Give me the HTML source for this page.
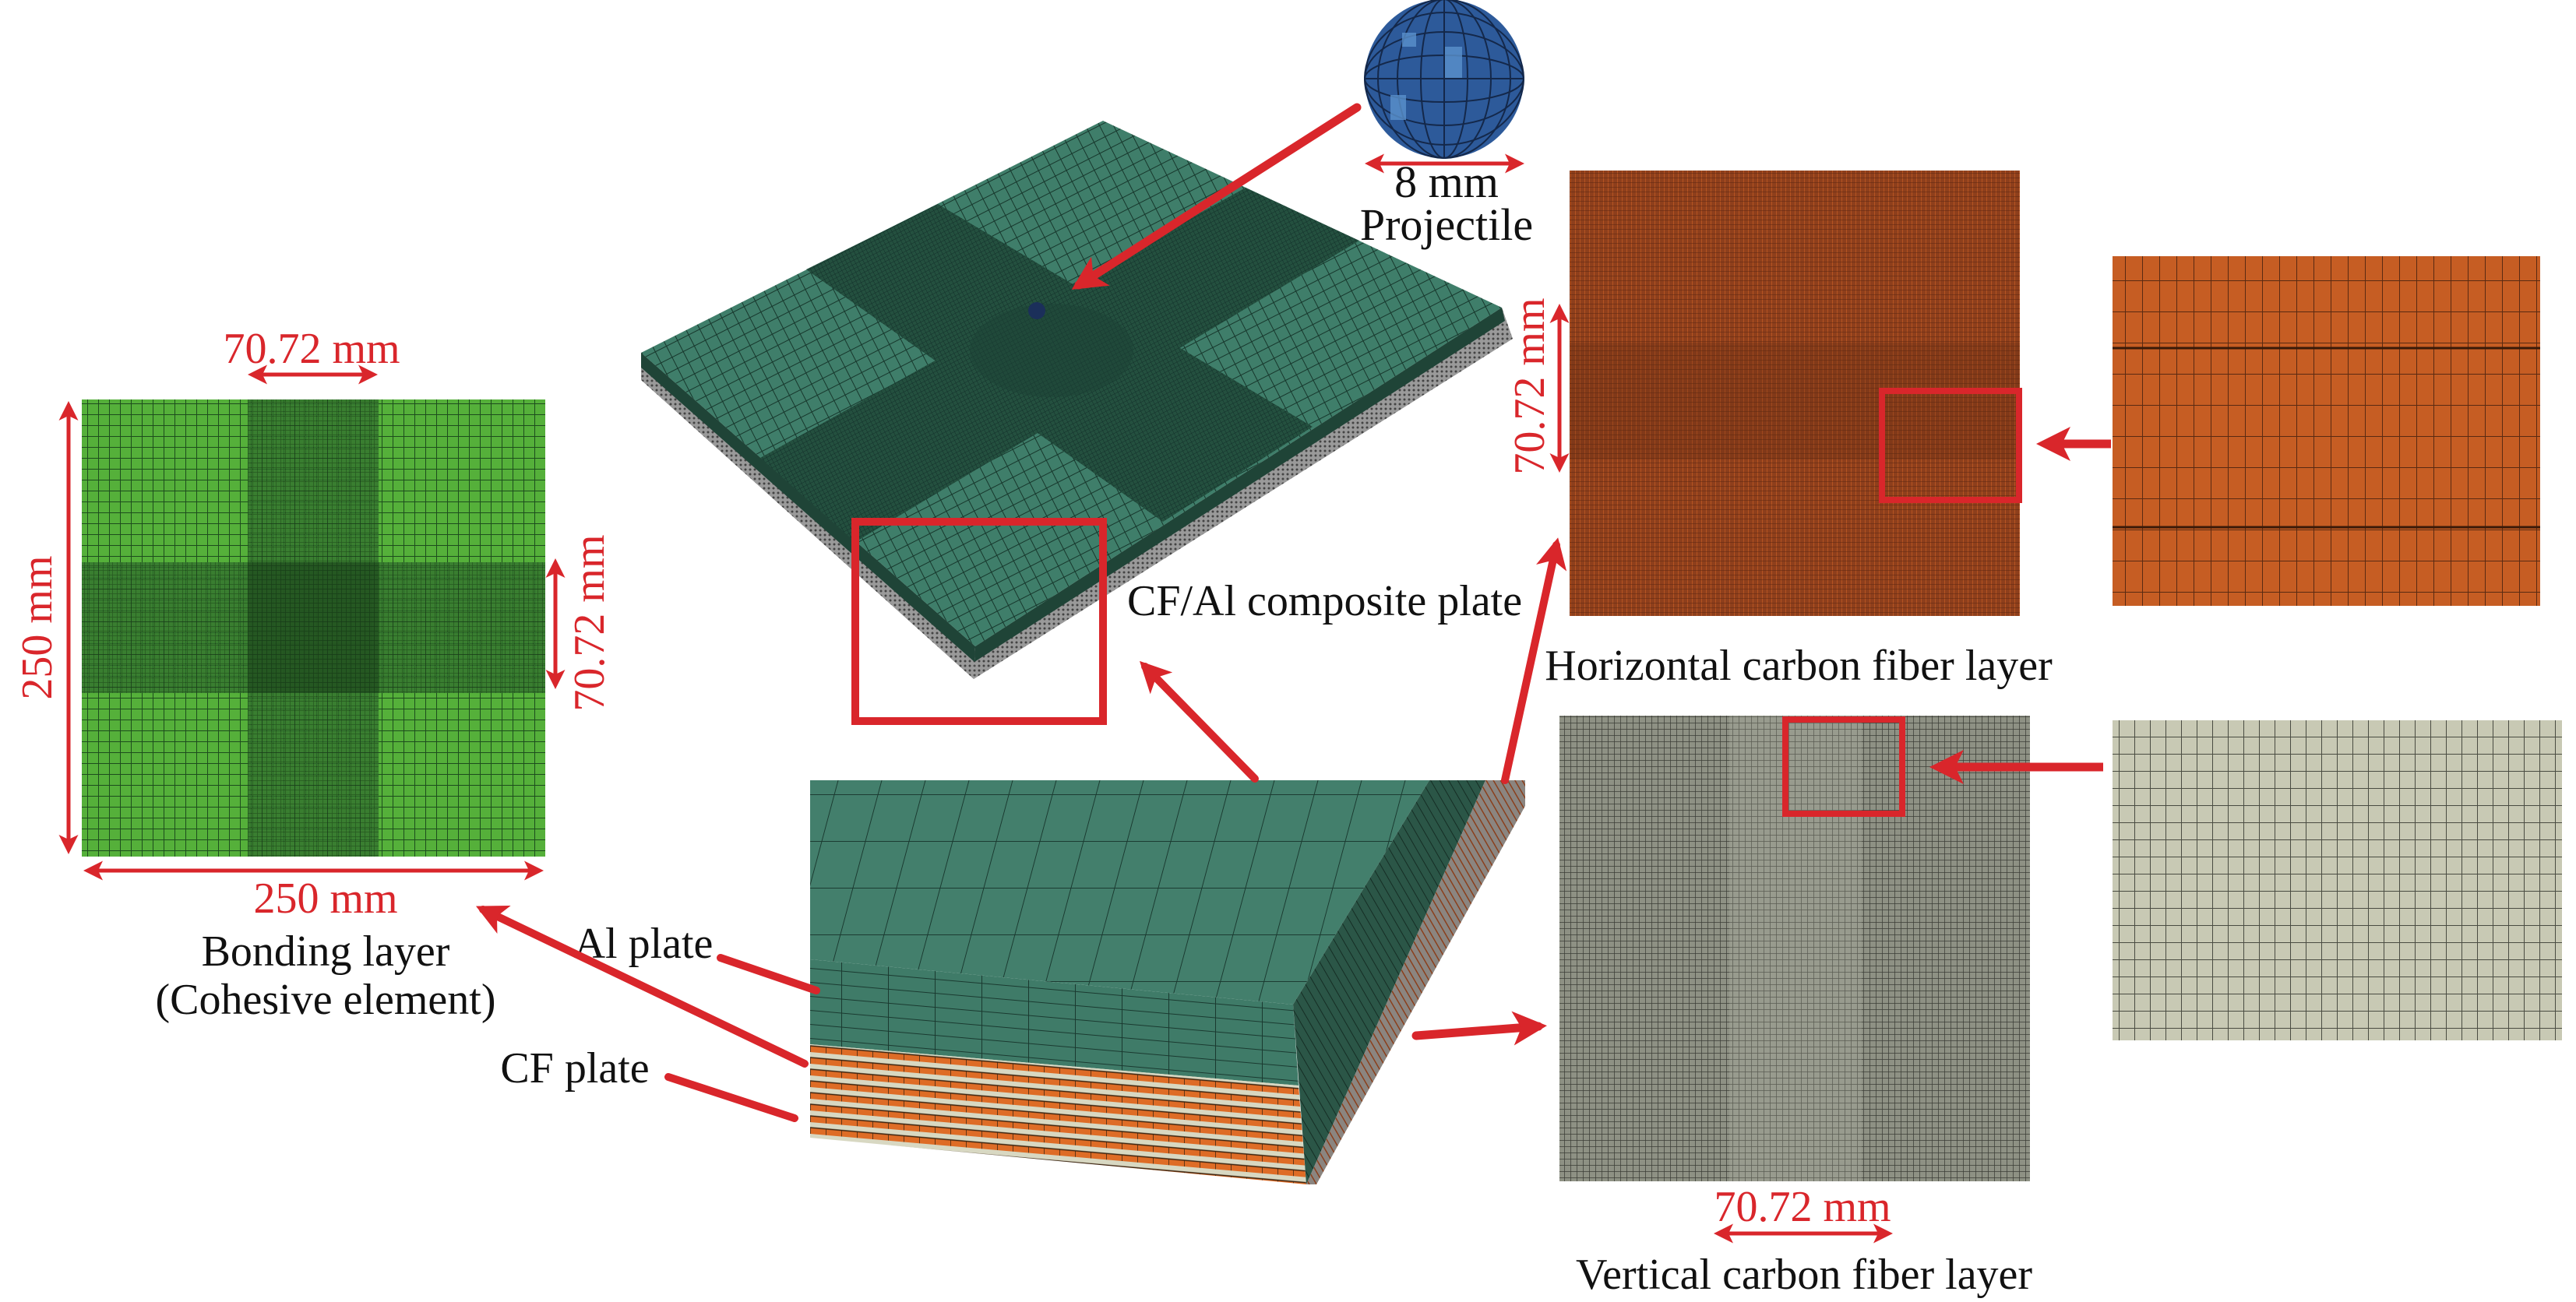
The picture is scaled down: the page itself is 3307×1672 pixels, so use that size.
<!DOCTYPE html>
<html><head><meta charset="utf-8"><style>
html,body{margin:0;padding:0;background:#fff;}
svg{display:block;}
text{font-family:"Liberation Serif",serif;}
</style></head><body>
<svg width="3307" height="1672" viewBox="0 0 3307 1672" xmlns="http://www.w3.org/2000/svg">
<defs>
<marker id="ah" markerWidth="4" markerHeight="4" refX="3" refY="2" orient="auto" markerUnits="strokeWidth">
<path d="M0,0 L4,2 L0,4 L1,2 z" fill="#d9262b"/></marker>
<marker id="ahs" markerWidth="5" markerHeight="5" refX="4" refY="2.5" orient="auto-start-reverse" markerUnits="strokeWidth">
<path d="M0,0 L5,2.5 L0,5 L1.2,2.5 z" fill="#d9262b"/></marker>
<pattern id="gGreen" width="14" height="14" patternUnits="userSpaceOnUse">
<rect width="14" height="14" fill="#55b03a"/><path d="M0,0H14M0,0V14" stroke="#1d4d1d" stroke-width="2"/></pattern>
<pattern id="gGreenD" width="6" height="6" patternUnits="userSpaceOnUse">
<rect width="6" height="6" fill="#2f6d2c"/><path d="M0,0H6M0,0V6" stroke="#173a17" stroke-width="1.5"/></pattern>
<pattern id="plate" width="16" height="16" patternUnits="userSpaceOnUse" patternTransform="rotate(-27)">
<rect width="16" height="16" fill="#3f7e6a"/><path d="M0,0H16M0,0V16" stroke="#17372c" stroke-width="2"/></pattern>
<pattern id="plateD" width="5" height="5" patternUnits="userSpaceOnUse" patternTransform="rotate(-27)">
<rect width="5" height="5" fill="#24503f"/><path d="M0,0H5M0,0V5" stroke="#13302a" stroke-width="1"/></pattern>
<pattern id="blockTop" width="56" height="60" patternUnits="userSpaceOnUse" patternTransform="skewX(-15)">
<rect width="56" height="60" fill="#437f6c"/><path d="M0,0H56M0,0V60" stroke="#1a3a30" stroke-width="2"/></pattern>
<pattern id="alFront" width="60" height="18" patternUnits="userSpaceOnUse" patternTransform="skewY(5)">
<rect width="60" height="18" fill="#3f7b68"/><path d="M0,0H60M0,0V18" stroke="#1a3a30" stroke-width="2"/></pattern>
<pattern id="cf" width="20" height="15" patternUnits="userSpaceOnUse" patternTransform="skewY(5)">
<rect width="20" height="15" fill="#d8d8c2"/><rect y="7" width="20" height="8" fill="#de6c26"/><path d="M0,7H20M0,7V15" stroke="#3b2410" stroke-width="1.5"/></pattern>
<pattern id="sideD" width="10" height="10" patternUnits="userSpaceOnUse" patternTransform="rotate(60)">
<rect width="10" height="10" fill="#2b5647"/><path d="M0,0H10" stroke="#152d24" stroke-width="2"/></pattern>
<pattern id="sideO" width="8" height="8" patternUnits="userSpaceOnUse" patternTransform="rotate(60)">
<rect width="8" height="8" fill="#8b8580"/><path d="M0,0H8" stroke="#8a3f1c" stroke-width="3"/></pattern>
<pattern id="grey" width="8" height="8" patternUnits="userSpaceOnUse">
<rect width="8" height="8" fill="#8e9184"/><path d="M0,0H8M0,0V8" stroke="#3c3e36" stroke-width="1.5"/></pattern>
<pattern id="hOrange" width="6" height="6" patternUnits="userSpaceOnUse">
<rect width="6" height="6" fill="#8e3f1c"/><path d="M0,0V6" stroke="#c25a23" stroke-width="1.5"/><path d="M0,0H6" stroke="#5a2610" stroke-width="1"/></pattern>
<pattern id="oZoom" width="22" height="40" patternUnits="userSpaceOnUse">
<rect width="22" height="40" fill="#c65d23"/><path d="M0,0H22M0,0V40" stroke="#5a2a12" stroke-width="2"/></pattern>
<pattern id="gZoom" width="20" height="22" patternUnits="userSpaceOnUse">
<rect width="20" height="22" fill="#c8c9b4"/><path d="M0,0H20M0,0V22" stroke="#4a4c42" stroke-width="2"/></pattern>
<pattern id="plateGrey" width="6" height="6" patternUnits="userSpaceOnUse"><rect width="6" height="6" fill="#9a9a9a"/><circle cx="3" cy="3" r="1.5" fill="#444"/></pattern>
</defs>

<!-- Bonding layer -->
<rect x="105" y="513" width="595" height="587" fill="url(#gGreen)"/>
<rect x="318" y="513" width="168" height="587" fill="url(#gGreenD)" opacity="0.75"/>
<rect x="105" y="722" width="595" height="168" fill="url(#gGreenD)" opacity="0.75"/>
<rect x="318" y="722" width="168" height="168" fill="#173a17" opacity="0.45"/>
<line x1="323" y1="481" x2="480" y2="481" stroke="#d9262b" stroke-width="5" marker-start="url(#ahs)" marker-end="url(#ahs)"/>
<text x="400" y="466" font-size="56" fill="#d9262b" text-anchor="middle">70.72 mm</text>
<line x1="88" y1="520" x2="88" y2="1092" stroke="#d9262b" stroke-width="5" marker-start="url(#ahs)" marker-end="url(#ahs)"/>
<text transform="translate(66,806) rotate(-90)" font-size="56" fill="#d9262b" text-anchor="middle">250 mm</text>
<line x1="713" y1="722" x2="713" y2="880" stroke="#d9262b" stroke-width="5" marker-start="url(#ahs)" marker-end="url(#ahs)"/>
<text transform="translate(775,800) rotate(-90)" font-size="56" fill="#d9262b" text-anchor="middle">70.72 mm</text>
<line x1="112" y1="1118" x2="693" y2="1118" stroke="#d9262b" stroke-width="5" marker-start="url(#ahs)" marker-end="url(#ahs)"/>
<text x="418" y="1172" font-size="56" fill="#d9262b" text-anchor="middle">250 mm</text>
<text x="418" y="1240" font-size="56" fill="#111" text-anchor="middle">Bonding layer</text>
<text x="418" y="1302" font-size="56" fill="#111" text-anchor="middle">(Cohesive element)</text>

<!-- Composite plate -->
<polygon points="823,453 1252,830 1250,872 823,488" fill="url(#plateGrey)"/>
<polygon points="823,453 1252,830 1251,850 823,472" fill="#1f4437"/>
<polygon points="1252,830 1928,395 1942,435 1250,872" fill="url(#plateGrey)"/>
<polygon points="1252,830 1928,395 1932,412 1251,850" fill="#1f4437"/>
<polygon points="823,453 1416,155 1928,395 1252,830" fill="url(#plate)"/>
<polygon points="1035,346 1204,262 1685,548 1493,670" fill="url(#plateD)"/>
<polygon points="976,588 1098,696 1745,309 1599,241" fill="url(#plateD)"/>
<ellipse cx="1350" cy="450" rx="105" ry="60" fill="#1c4235" opacity="0.5"/>
<circle cx="1331" cy="399" r="11" fill="#1b2f5a"/>
<rect x="1098" y="670" width="318" height="256" fill="none" stroke="#d9262b" stroke-width="10"/>
<text x="1447" y="790" font-size="56" fill="#111">CF/Al composite plate</text>

<!-- Projectile -->
<circle cx="1854" cy="101" r="102" fill="#2d5a9a"/>
<g stroke="#14284a" stroke-width="2" fill="none">
<ellipse cx="1854" cy="101" rx="30" ry="102"/><ellipse cx="1854" cy="101" rx="60" ry="102"/><ellipse cx="1854" cy="101" rx="85" ry="102"/>
<ellipse cx="1854" cy="101" rx="102" ry="30"/><ellipse cx="1854" cy="101" rx="102" ry="60"/><ellipse cx="1854" cy="101" rx="102" ry="85"/>
<line x1="1752" y1="101" x2="1956" y2="101"/><line x1="1854" y1="0" x2="1854" y2="203"/>
</g>
<rect x="1855" y="60" width="22" height="40" fill="#5a91cc" opacity="0.8"/>
<rect x="1800" y="42" width="18" height="18" fill="#5a91cc" opacity="0.8"/>
<rect x="1785" y="122" width="20" height="32" fill="#5a91cc" opacity="0.8"/>
<line x1="1757" y1="210" x2="1952" y2="210" stroke="#d9262b" stroke-width="5" marker-start="url(#ahs)" marker-end="url(#ahs)"/>
<text x="1857" y="253" font-size="58" fill="#111" text-anchor="middle">8 mm</text>
<text x="1857" y="308" font-size="58" fill="#111" text-anchor="middle">Projectile</text>
<line x1="1742" y1="138" x2="1385" y2="366" stroke="#d9262b" stroke-width="11" stroke-linecap="round" marker-end="url(#ah)"/>

<!-- Bottom block -->
<polygon points="1040,1002 1835,1002 1660,1290 1040,1232" fill="url(#blockTop)"/>
<polygon points="1040,1232 1660,1290 1667,1394 1040,1341" fill="url(#alFront)"/>
<polygon points="1040,1341 1667,1394 1677,1521 1040,1461" fill="url(#cf)"/>
<polygon points="1835,1002 1907,1002 1677,1521 1660,1290" fill="url(#sideD)"/>
<polygon points="1907,1002 1958,1002 1958,1035 1690,1521 1677,1521" fill="url(#sideO)"/>
<text x="826" y="1230" font-size="56" fill="#111" text-anchor="middle">Al plate</text>
<text x="738" y="1390" font-size="56" fill="#111" text-anchor="middle">CF plate</text>
<line x1="925" y1="1230" x2="1048" y2="1272" stroke="#d9262b" stroke-width="10" stroke-linecap="round"/>
<line x1="858" y1="1383" x2="1020" y2="1436" stroke="#d9262b" stroke-width="10" stroke-linecap="round"/>
<line x1="1033" y1="1366" x2="620" y2="1168" stroke="#d9262b" stroke-width="10" stroke-linecap="round" marker-end="url(#ah)"/>
<line x1="1611" y1="1000" x2="1470" y2="856" stroke="#d9262b" stroke-width="10" stroke-linecap="round" marker-end="url(#ah)"/>
<line x1="1932" y1="1002" x2="1998" y2="700" stroke="#d9262b" stroke-width="10" stroke-linecap="round" marker-end="url(#ah)"/>
<line x1="1818" y1="1330" x2="1975" y2="1318" stroke="#d9262b" stroke-width="11" stroke-linecap="round" marker-end="url(#ah)"/>

<!-- Horizontal CF layer -->
<rect x="2015" y="219" width="578" height="572" fill="url(#hOrange)"/>
<rect x="2015" y="440" width="578" height="150" fill="#5a2610" opacity="0.25"/>
<rect x="2416" y="502" width="176" height="140" fill="none" stroke="#d9262b" stroke-width="8"/>
<line x1="2002" y1="395" x2="2002" y2="602" stroke="#d9262b" stroke-width="5" marker-start="url(#ahs)" marker-end="url(#ahs)"/>
<text transform="translate(1982,496) rotate(-90)" font-size="56" fill="#d9262b" text-anchor="middle">70.72 mm</text>
<text x="2309" y="873" font-size="56" fill="#111" text-anchor="middle">Horizontal carbon fiber layer</text>
<rect x="2712" y="329" width="549" height="449" fill="url(#oZoom)"/>
<line x1="2712" y1="447" x2="3261" y2="447" stroke="#3a1a08" stroke-width="3"/>
<line x1="2712" y1="677" x2="3261" y2="677" stroke="#3a1a08" stroke-width="3"/>
<line x1="2710" y1="570" x2="2625" y2="570" stroke="#d9262b" stroke-width="11" marker-end="url(#ah)"/>

<!-- Vertical CF layer -->
<rect x="2002" y="919" width="604" height="598" fill="url(#grey)"/>
<rect x="2220" y="919" width="170" height="598" fill="#b8bcab" opacity="0.25"/>
<rect x="2292" y="924" width="150" height="121" fill="none" stroke="#d9262b" stroke-width="8"/>
<line x1="2700" y1="985" x2="2488" y2="985" stroke="#d9262b" stroke-width="11" marker-end="url(#ah)"/>
<rect x="2712" y="925" width="577" height="411" fill="url(#gZoom)"/>
<text x="2314" y="1568" font-size="56" fill="#d9262b" text-anchor="middle">70.72 mm</text>
<line x1="2205" y1="1584" x2="2425" y2="1584" stroke="#d9262b" stroke-width="5" marker-start="url(#ahs)" marker-end="url(#ahs)"/>
<text x="2316" y="1655" font-size="56" fill="#111" text-anchor="middle">Vertical carbon fiber layer</text>
</svg>
</body></html>
